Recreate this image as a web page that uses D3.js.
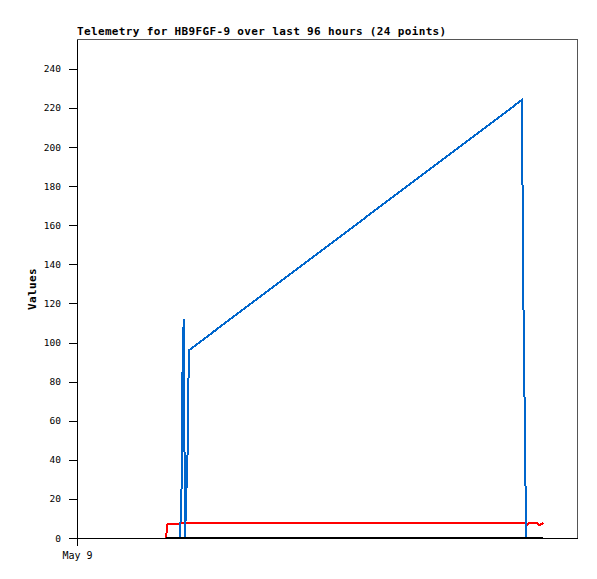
<!DOCTYPE html>
<html>
<head>
<meta charset="utf-8">
<script src="https://cdn.jsdelivr.net/npm/d3@7"></script>
<style>
  html, body { margin: 0; padding: 0; background: #fff; }
  svg { display: block; }
</style>
</head>
<body>
<svg id="chart" width="597" height="579"></svg>
<script>
// ---- data ----
const titleText = "Telemetry for HB9FGF-9 over last 96 hours (24 points)";
const yAxisLabel = "Values";
const times = [
  "2024-05-09T17:05", "2024-05-09T17:23", "2024-05-09T17:40", "2024-05-09T19:35",
  "2024-05-09T19:47", "2024-05-09T20:06", "2024-05-09T20:15", "2024-05-09T20:29",
  "2024-05-09T20:37", "2024-05-09T20:44", "2024-05-09T21:17", "2024-05-09T21:28",
  "2024-05-12T13:23", "2024-05-12T13:30", "2024-05-12T13:38", "2024-05-12T13:49",
  "2024-05-12T14:04", "2024-05-12T14:13", "2024-05-12T14:30", "2024-05-12T14:47",
  "2024-05-12T16:19", "2024-05-12T16:36", "2024-05-12T16:59", "2024-05-12T17:32"
];
const blueValues = [0, 0, 0, 0, 0, 28, 84, 112, 56, 0, 48, 96,
                    224, 196, 140, 96, 40, 0, 0, 0, 0, 0, 0, 0];
const redValues = [0, 7.0, 7.2, 7.0, 7.8, 7.8, 7.8, 7.8, 7.8, 7.8, 7.8, 7.8,
                   7.8, 7.8, 7.8, 7.8, 7.8, 7.8, 6.9, 7.5, 7.5, 6.8, 6.8, 7.8];
const blackValues = [0, 0, 0, 0, 0, 0, 0, 0, 0, 0, 0, 0,
                     0, 0, 0, 0, 0, 0, 0, 0, 0, 0, 0, 0];
const yTicks = [0, 20, 40, 60, 80, 100, 120, 140, 160, 180, 200, 220, 240];
const xTickLabels = ["May 9"];
const xTickDates = ["2024-05-09T00:00"];
const xDomain = ["2024-05-09T00:00", "2024-05-13T00:00"];
const yMax = 255;

// ---- layout ----
const plotL = 77, plotR = 577, plotT = 39.5, plotB = 538;
const parse = d3.isoParse;
const svg = d3.select("#chart");

const x = d3.scaleTime().domain(xDomain.map(parse)).range([plotL, plotR]);
const y = d3.scaleLinear().domain([0, yMax]).range([plotB, plotT]);

// frame
svg.append("rect")
  .attr("x", plotL).attr("y", plotT)
  .attr("width", plotR - plotL).attr("height", plotB - plotT)
  .attr("fill", "#fff").attr("stroke", "#555").attr("stroke-width", 1)
  .attr("shape-rendering", "crispEdges");

const mono = "'DejaVu Sans Mono', 'Liberation Mono', monospace";

// y axis
const yAxis = d3.axisLeft(y).tickValues(yTicks).tickSize(8).tickPadding(8).tickSizeOuter(0);
const gy = svg.append("g").attr("transform", `translate(${plotL},0)`).call(yAxis);
gy.select(".domain").attr("stroke", "#000").attr("shape-rendering", "crispEdges");
gy.selectAll(".tick line").attr("stroke", "#000").attr("shape-rendering", "crispEdges");
gy.selectAll(".tick text").attr("font-family", mono).attr("font-size", "9.5px").attr("fill", "#000");

// x axis
const xAxis = d3.axisBottom(x)
  .tickValues(xTickDates.map(parse))
  .tickFormat((d, i) => xTickLabels[i])
  .tickSize(8).tickPadding(6).tickSizeOuter(0);
const gx = svg.append("g").attr("transform", `translate(0,${plotB})`).call(xAxis);
gx.select(".domain").attr("stroke", "#000").attr("shape-rendering", "crispEdges");
gx.selectAll(".tick line").attr("stroke", "#000").attr("shape-rendering", "crispEdges");
gx.selectAll(".tick text").attr("font-family", mono).attr("font-size", "10px").attr("fill", "#000");

// series
svg.append("clipPath").attr("id", "plotclip")
  .append("rect").attr("x", plotL).attr("y", plotT - 1).attr("width", plotR - plotL).attr("height", plotB - plotT + 2);

const series = [
  { values: redValues, color: "#ff0000", width: 2 },
  { values: blueValues, color: "#0066cc", width: 2 },
  { values: blackValues, color: "#000000", width: 2 }
];
const tParsed = times.map(parse);
const line = d3.line().x(d => x(d[0])).y(d => y(d[1]));
const gLines = svg.append("g").attr("clip-path", "url(#plotclip)");
series.forEach(s => {
  gLines.append("path")
    .datum(tParsed.map((t, i) => [t, s.values[i]]))
    .attr("d", line)
    .attr("fill", "none")
    .attr("stroke", s.color)
    .attr("stroke-width", s.width)
    .attr("stroke-linejoin", "miter")
    .attr("shape-rendering", "crispEdges");
});

// title
svg.append("text")
  .attr("x", plotL).attr("y", 35)
  .attr("font-family", mono).attr("font-weight", "bold")
  .attr("font-size", "11px").attr("letter-spacing", "0.35px")
  .attr("fill", "#000")
  .text(titleText);

// y label
svg.append("text")
  .attr("transform", `translate(36,289) rotate(-90)`)
  .attr("text-anchor", "middle")
  .attr("font-family", mono).attr("font-weight", "bold")
  .attr("font-size", "11px").attr("letter-spacing", "0.35px")
  .attr("fill", "#000")
  .text(yAxisLabel);
</script>
</body>
</html>
